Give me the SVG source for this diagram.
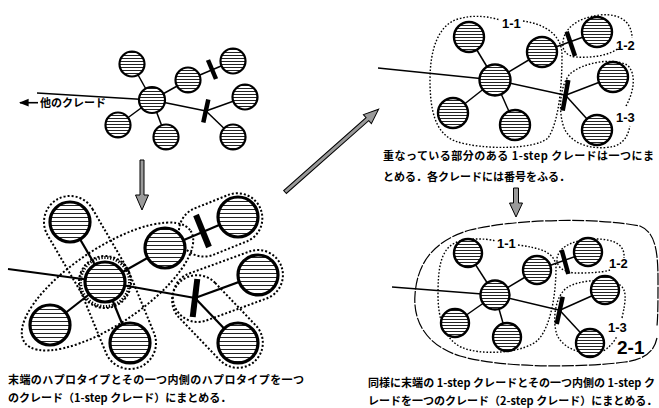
<svg xmlns="http://www.w3.org/2000/svg" width="659" height="408" viewBox="0 0 659 408">
<defs>
<pattern id="h1" patternUnits="userSpaceOnUse" width="8" height="3"><rect width="8" height="3" fill="#fff"/><line x1="0" y1="1.5" x2="8" y2="1.5" stroke="#222" stroke-width="1"/></pattern>
<pattern id="h2" patternUnits="userSpaceOnUse" width="8" height="4"><rect width="8" height="4" fill="#fff"/><line x1="0" y1="1.5" x2="8" y2="1.5" stroke="#222" stroke-width="1"/></pattern>
<marker id="ah" viewBox="0 0 10 10" refX="9" refY="5" markerWidth="6" markerHeight="6" orient="auto"><path d="M0,1 L10,5 L0,9 Z" fill="#000"/></marker>
</defs>
<style>
.n1{fill:url(#h1);stroke:#000;stroke-width:2.2}
.n2{fill:url(#h2);stroke:#000;stroke-width:3.2}
.n3{fill:url(#h1);stroke:#000;stroke-width:2.4}
.e1{stroke:#000;stroke-width:1.5;fill:none}
.e2{stroke:#000;stroke-width:2.2;fill:none}
.bar{stroke:#000;stroke-width:4.5;fill:none}
.bar2{stroke:#000;stroke-width:6;fill:none}
.dot{fill:none;stroke:#000;stroke-width:1.4;stroke-dasharray:1.6 1.8}
.dotb{fill:none;stroke:#000;stroke-width:2;stroke-dasharray:2 2}
.dash{fill:none;stroke:#000;stroke-width:1.2;stroke-dasharray:12 1.5}
.arr{fill:#9a9a9a;stroke:#000;stroke-width:1}
.cap{font-family:"Noto Sans CJK JP","Noto Sans",sans-serif;font-weight:bold;font-size:11px;fill:#000}
.lb{font-family:"Liberation Sans",Arial,sans-serif;font-weight:bold;font-size:13px;fill:#000}
.big{font-size:19px}
</style>

<!-- connectors -->
<g id="connectors">
  <!-- top-left -->
  <line class="e1" x1="37" y1="93" x2="152" y2="100"/>
  <line class="e1" x1="152" y1="100" x2="132" y2="64"/>
  <line class="e1" x1="152" y1="100" x2="118" y2="125"/>
  <line class="e1" x1="152" y1="100" x2="166" y2="137"/>
  <line class="e1" x1="152" y1="100" x2="188" y2="80"/>
  <line class="e1" x1="188" y1="80" x2="233" y2="61"/>
  <line class="e1" x1="152" y1="100" x2="206" y2="111"/>
  <line class="e1" x1="206" y1="111" x2="245" y2="97"/>
  <line class="e1" x1="206" y1="111" x2="233" y2="137"/>
  <line class="bar" x1="208" y1="60" x2="216" y2="79"/>
  <line class="bar" x1="208.3" y1="99.5" x2="203.3" y2="122.5"/>
  <line x1="38" y1="102.7" x2="20" y2="102.7" stroke="#000" stroke-width="1.6" marker-end="url(#ah)"/>
  <!-- bottom-left -->
  <line class="e2" x1="8" y1="269" x2="105" y2="282"/>
  <line class="e2" x1="105" y1="282" x2="70" y2="222"/>
  <line class="e2" x1="105" y1="282" x2="50" y2="325"/>
  <line class="e2" x1="105" y1="282" x2="130" y2="343"/>
  <line class="e2" x1="105" y1="282" x2="165" y2="248"/>
  <line class="e2" x1="165" y1="248" x2="238" y2="217"/>
  <line class="e2" x1="105" y1="282" x2="195" y2="298"/>
  <line class="e2" x1="195" y1="298" x2="258" y2="275"/>
  <line class="e2" x1="195" y1="298" x2="238" y2="343"/>
  <line class="bar2" x1="196" y1="215" x2="209" y2="247"/>
  <line class="bar2" x1="197.3" y1="279" x2="192.7" y2="317"/>
  <!-- top-right -->
  <line class="e1" x1="378" y1="68" x2="495" y2="80"/>
  <line class="e1" x1="495" y1="80" x2="469" y2="37"/>
  <line class="e1" x1="495" y1="80" x2="453" y2="113"/>
  <line class="e1" x1="495" y1="80" x2="515" y2="125"/>
  <line class="e1" x1="495" y1="80" x2="542" y2="52"/>
  <line class="e1" x1="542" y1="52" x2="597" y2="32"/>
  <line class="e1" x1="495" y1="80" x2="565.5" y2="95.3"/>
  <line class="e1" x1="565.5" y1="95.3" x2="613" y2="77"/>
  <line class="e1" x1="565.5" y1="95.3" x2="597" y2="130"/>
  <line class="bar" x1="566.7" y1="31.7" x2="575" y2="56"/>
  <line class="bar" x1="568.3" y1="80" x2="562.7" y2="110.7"/>
  <!-- bottom-right -->
  <line class="e1" x1="392" y1="287" x2="495" y2="295"/>
  <line class="e1" x1="495" y1="295" x2="468" y2="253"/>
  <line class="e1" x1="495" y1="295" x2="455" y2="323"/>
  <line class="e1" x1="495" y1="295" x2="507" y2="337"/>
  <line class="e1" x1="495" y1="295" x2="537" y2="270"/>
  <line class="e1" x1="537" y1="270" x2="588" y2="252"/>
  <line class="e1" x1="495" y1="295" x2="559.7" y2="310.3"/>
  <line class="e1" x1="559.7" y1="310.3" x2="605" y2="290"/>
  <line class="e1" x1="559.7" y1="310.3" x2="590" y2="343"/>
  <line class="bar" x1="561.7" y1="250" x2="568.3" y2="274"/>
  <line class="bar" x1="562.7" y1="296.7" x2="556.7" y2="324"/>
</g>

<!-- top-left nodes -->
<g id="tl-c"><circle class="n1" cx="152" cy="100" r="13"/></g>
<g id="tl-tl"><circle class="n1" cx="132" cy="64" r="12.5"/></g>
<g id="tl-bl"><circle class="n1" cx="118" cy="125" r="12.5"/></g>
<g id="tl-bc"><circle class="n1" cx="166" cy="137" r="12.5"/></g>
<g id="tl-ur"><circle class="n1" cx="188" cy="80" r="12.5"/></g>
<g id="tl-ftr"><circle class="n1" cx="233" cy="61" r="12.5"/></g>
<g id="tl-r"><circle class="n1" cx="245" cy="97" r="12.5"/></g>
<g id="tl-br"><circle class="n1" cx="233" cy="137" r="12.5"/></g>
<g id="tl-label"><text class="cap" x="40" y="107">他のクレード</text></g>

<!-- bottom-left clades -->
<g id="bl-clades">
  <rect class="dotb" x="-26" y="-26" width="121.5" height="52" rx="26" transform="translate(70,222) rotate(59.74)"/>
  <rect class="dotb" x="-26" y="-26" width="117.9" height="52" rx="26" transform="translate(105,282) rotate(67.7)"/>
  <ellipse class="dotb" cx="0" cy="0" rx="100" ry="38" transform="translate(107.5,286.5) rotate(-33.8)"/>
  <rect class="dotb" x="-24" y="-25" width="86" height="50" rx="25" transform="translate(203,232) rotate(-21.8)"/>
  <rect class="dotb" x="-22" y="-25" width="114" height="50" rx="25" transform="translate(195,298) rotate(-20.06)"/>
  <rect class="dotb" x="-22" y="-25" width="109" height="50" rx="25" transform="translate(195,298) rotate(46.3)"/>
  <circle cx="105" cy="282" r="24.5" fill="none" stroke="#000" stroke-width="3" stroke-dasharray="1.3 1.7"/>
</g>
<!-- bottom-left nodes -->
<g id="bl-c"><circle class="n2" cx="105" cy="282" r="20"/></g>
<g id="bl-tl"><circle class="n2" cx="70" cy="222" r="20"/></g>
<g id="bl-bl"><circle class="n2" cx="50" cy="325" r="20"/></g>
<g id="bl-bc"><circle class="n2" cx="130" cy="343" r="20"/></g>
<g id="bl-ur"><circle class="n2" cx="165" cy="248" r="20"/></g>
<g id="bl-ftr"><circle class="n2" cx="238" cy="217" r="20"/></g>
<g id="bl-r"><circle class="n2" cx="258" cy="275" r="20"/></g>
<g id="bl-br"><circle class="n2" cx="238" cy="343" r="20"/></g>

<!-- top-right clades -->
<g id="tr-clades">
  <path class="dot" d="M523,21 C545,24 562,35 562,55 C562,80 560,120 548,138 C535,150 480,150 455,141 C435,133 430,110 430,80 C430,50 438,25 458,19 C475,14 490,17 500,20"/>
  <path class="dot" d="M620,47 C610,56 590,58 576,57 C566,56 562,50 563,42 C564,30 575,18 600,15 C620,13 632,22 632,38"/>
  <path class="dot" d="M626,106 C635,90 636,72 627,65 C612,57 582,63 570,74 C559,86 558,115 565,130 C575,148 600,150 615,146 C625,142 628,135 630,126"/>
</g>
<g id="tr-c"><circle class="n3" cx="495" cy="80" r="15.5"/></g>
<g id="tr-tl"><circle class="n3" cx="469" cy="37" r="15"/></g>
<g id="tr-bl"><circle class="n3" cx="453" cy="113" r="15"/></g>
<g id="tr-bc"><circle class="n3" cx="515" cy="125" r="15"/></g>
<g id="tr-ur"><circle class="n3" cx="542" cy="52" r="15"/></g>
<g id="tr-ftr"><circle class="n3" cx="597" cy="32" r="15"/></g>
<g id="tr-r"><circle class="n3" cx="613" cy="77" r="15"/></g>
<g id="tr-br"><circle class="n3" cx="597" cy="130" r="15"/></g>
<g id="tr-labels">
  <text class="lb" x="502" y="28">1-1</text>
  <text class="lb" x="616" y="50">1-2</text>
  <text class="lb" x="616" y="122">1-3</text>
</g>

<!-- bottom-right clades -->
<g id="br-clades">
  <path class="dash" d="M657,338 C654,352 645,359 625,362 C580,368 500,368 460,356 C425,345 413,320 415,295 C417,262 435,240 470,230 C520,218 600,218 640,226 C655,232 658,250 658,280 C658,300 658,315 657,326"/>
  <path class="dot" d="M518,245 C540,248 556,252 556,268 C556,290 552,325 538,340 C525,352 490,355 470,350 C445,345 438,320 438,295 C438,270 440,250 455,243 C465,238 485,238 496,241"/>
  <path class="dot" d="M610,270 C600,273 585,273 575,273 C565,272 556,268 557,258 C560,245 575,240 595,239 C615,239 625,245 624,258"/>
  <path class="dot" d="M622,318 C626,300 627,290 620,285 C605,278 580,280 568,287 C555,295 552,320 557,335 C565,352 590,357 605,350 C612,345 615,340 617,336"/>
</g>
<g id="br-c"><circle class="n3" cx="495" cy="295" r="14.5"/></g>
<g id="br-tl"><circle class="n3" cx="468" cy="253" r="14"/></g>
<g id="br-bl"><circle class="n3" cx="455" cy="323" r="14"/></g>
<g id="br-bc"><circle class="n3" cx="507" cy="337" r="14"/></g>
<g id="br-ur"><circle class="n3" cx="537" cy="270" r="14"/></g>
<g id="br-ftr"><circle class="n3" cx="588" cy="252" r="14"/></g>
<g id="br-r"><circle class="n3" cx="605" cy="290" r="14"/></g>
<g id="br-br"><circle class="n3" cx="590" cy="343" r="14"/></g>
<g id="br-labels">
  <text class="lb" x="497" y="248">1-1</text>
  <text class="lb" x="609" y="268">1-2</text>
  <text class="lb" x="608" y="332">1-3</text>
  <text class="lb big" x="617" y="354">2-1</text>
</g>

<!-- arrows -->
<g id="arrows">
  <path class="arr" d="M-2,0 L2,0 L2,35 L6.5,35 L0,50 L-6.5,35 L-2,35 Z" transform="translate(142,160)"/>
  <path class="arr" d="M-2.5,0 L2.5,0 L2.5,15 L6.5,15 L0,29 L-6.5,15 L-2.5,15 Z" transform="translate(516,188)"/>
  <path class="arr" d="M-2,0 L2,0 L2,110 L6,110 L0,125 L-6,110 L-2,110 Z" transform="translate(285,192) rotate(-131.5)"/>
</g>

<!-- captions -->
<g id="captions">
  <text class="cap" x="383" y="160" textLength="271" lengthAdjust="spacing">重なっている部分のある 1-step クレードは一つにま</text>
  <text class="cap" x="383" y="181">とめる．各クレードには番号をふる．</text>
  <text class="cap" x="8" y="384" textLength="296" lengthAdjust="spacing">末端のハプロタイプとその一つ内側のハプロタイプを一つ</text>
  <text class="cap" x="8" y="402">のクレード（1-step クレード）にまとめる．</text>
  <text class="cap" x="368" y="387" textLength="287" lengthAdjust="spacing">同様に末端の 1-step クレードとその一つ内側の 1-step ク</text>
  <text class="cap" x="368" y="405">レードを一つのクレード（2-step クレード）にまとめる．</text>
</g>
</svg>
